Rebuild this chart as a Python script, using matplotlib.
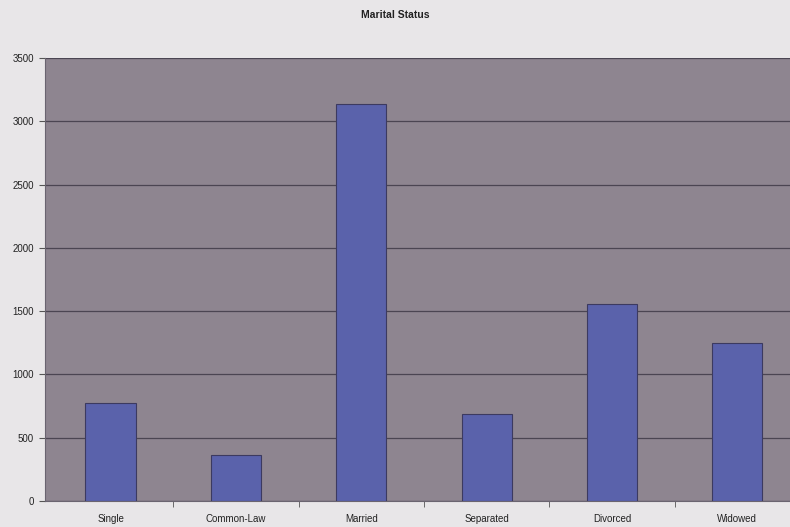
import matplotlib.pyplot as plt
import numpy as np

plt.rcParams['font.family'] = ['Liberation Sans', 'DejaVu Sans']

categories = ["Single", "Common-Law", "Married", "Separated", "Divorced", "Widowed"]
counts = [775, 362, 3135, 687, 1555, 1247]
yticks = [0, 500, 1000, 1500, 2000, 2500, 3000, 3500]

fig = plt.figure(figsize=(7.9, 5.27), dpi=100)
fig.patch.set_facecolor('#e8e6e8')

# plot area runs slightly past the right edge of the figure
ax = fig.add_axes([45 / 790, 26 / 527, 755 / 790, 443 / 527])
ax.set_facecolor('#8e8590')

x = np.arange(len(categories))
ax.bar(x, counts, width=0.4, color='#5a62ab', edgecolor='#3c3a60', linewidth=0.8, zorder=3)

ax.set_xlim(-0.523, len(categories) - 0.5)
ax.set_ylim(0, 3500)
ax.set_yticks(yticks)
ax.set_yticklabels([str(t) for t in yticks], fontsize=7, color='#222222')
ax.yaxis.grid(True, color='#4b4552', linewidth=0.9, zorder=1)

ax.set_xticks(x)
ax.set_xticklabels(categories, fontsize=7, color='#222222')
ax.set_xticks(np.arange(len(categories)) + 0.5, minor=True)
ax.tick_params(axis='x', which='major', length=0, pad=9)
ax.tick_params(axis='x', which='minor', length=4, color='#555555', direction='out')
ax.tick_params(axis='y', length=4, color='#555555', pad=4)

for side in ['top', 'right']:
    ax.spines[side].set_visible(False)
ax.spines['left'].set_color('#6a6470')
ax.spines['bottom'].set_color('#6a6470')

fig.text(395 / 790, 1 - 15 / 527, "Marital Status", ha='center', va='center',
         fontsize=7.5, fontweight='bold', color='#222222')

fig.savefig('out.png', dpi=100, facecolor=fig.get_facecolor())
